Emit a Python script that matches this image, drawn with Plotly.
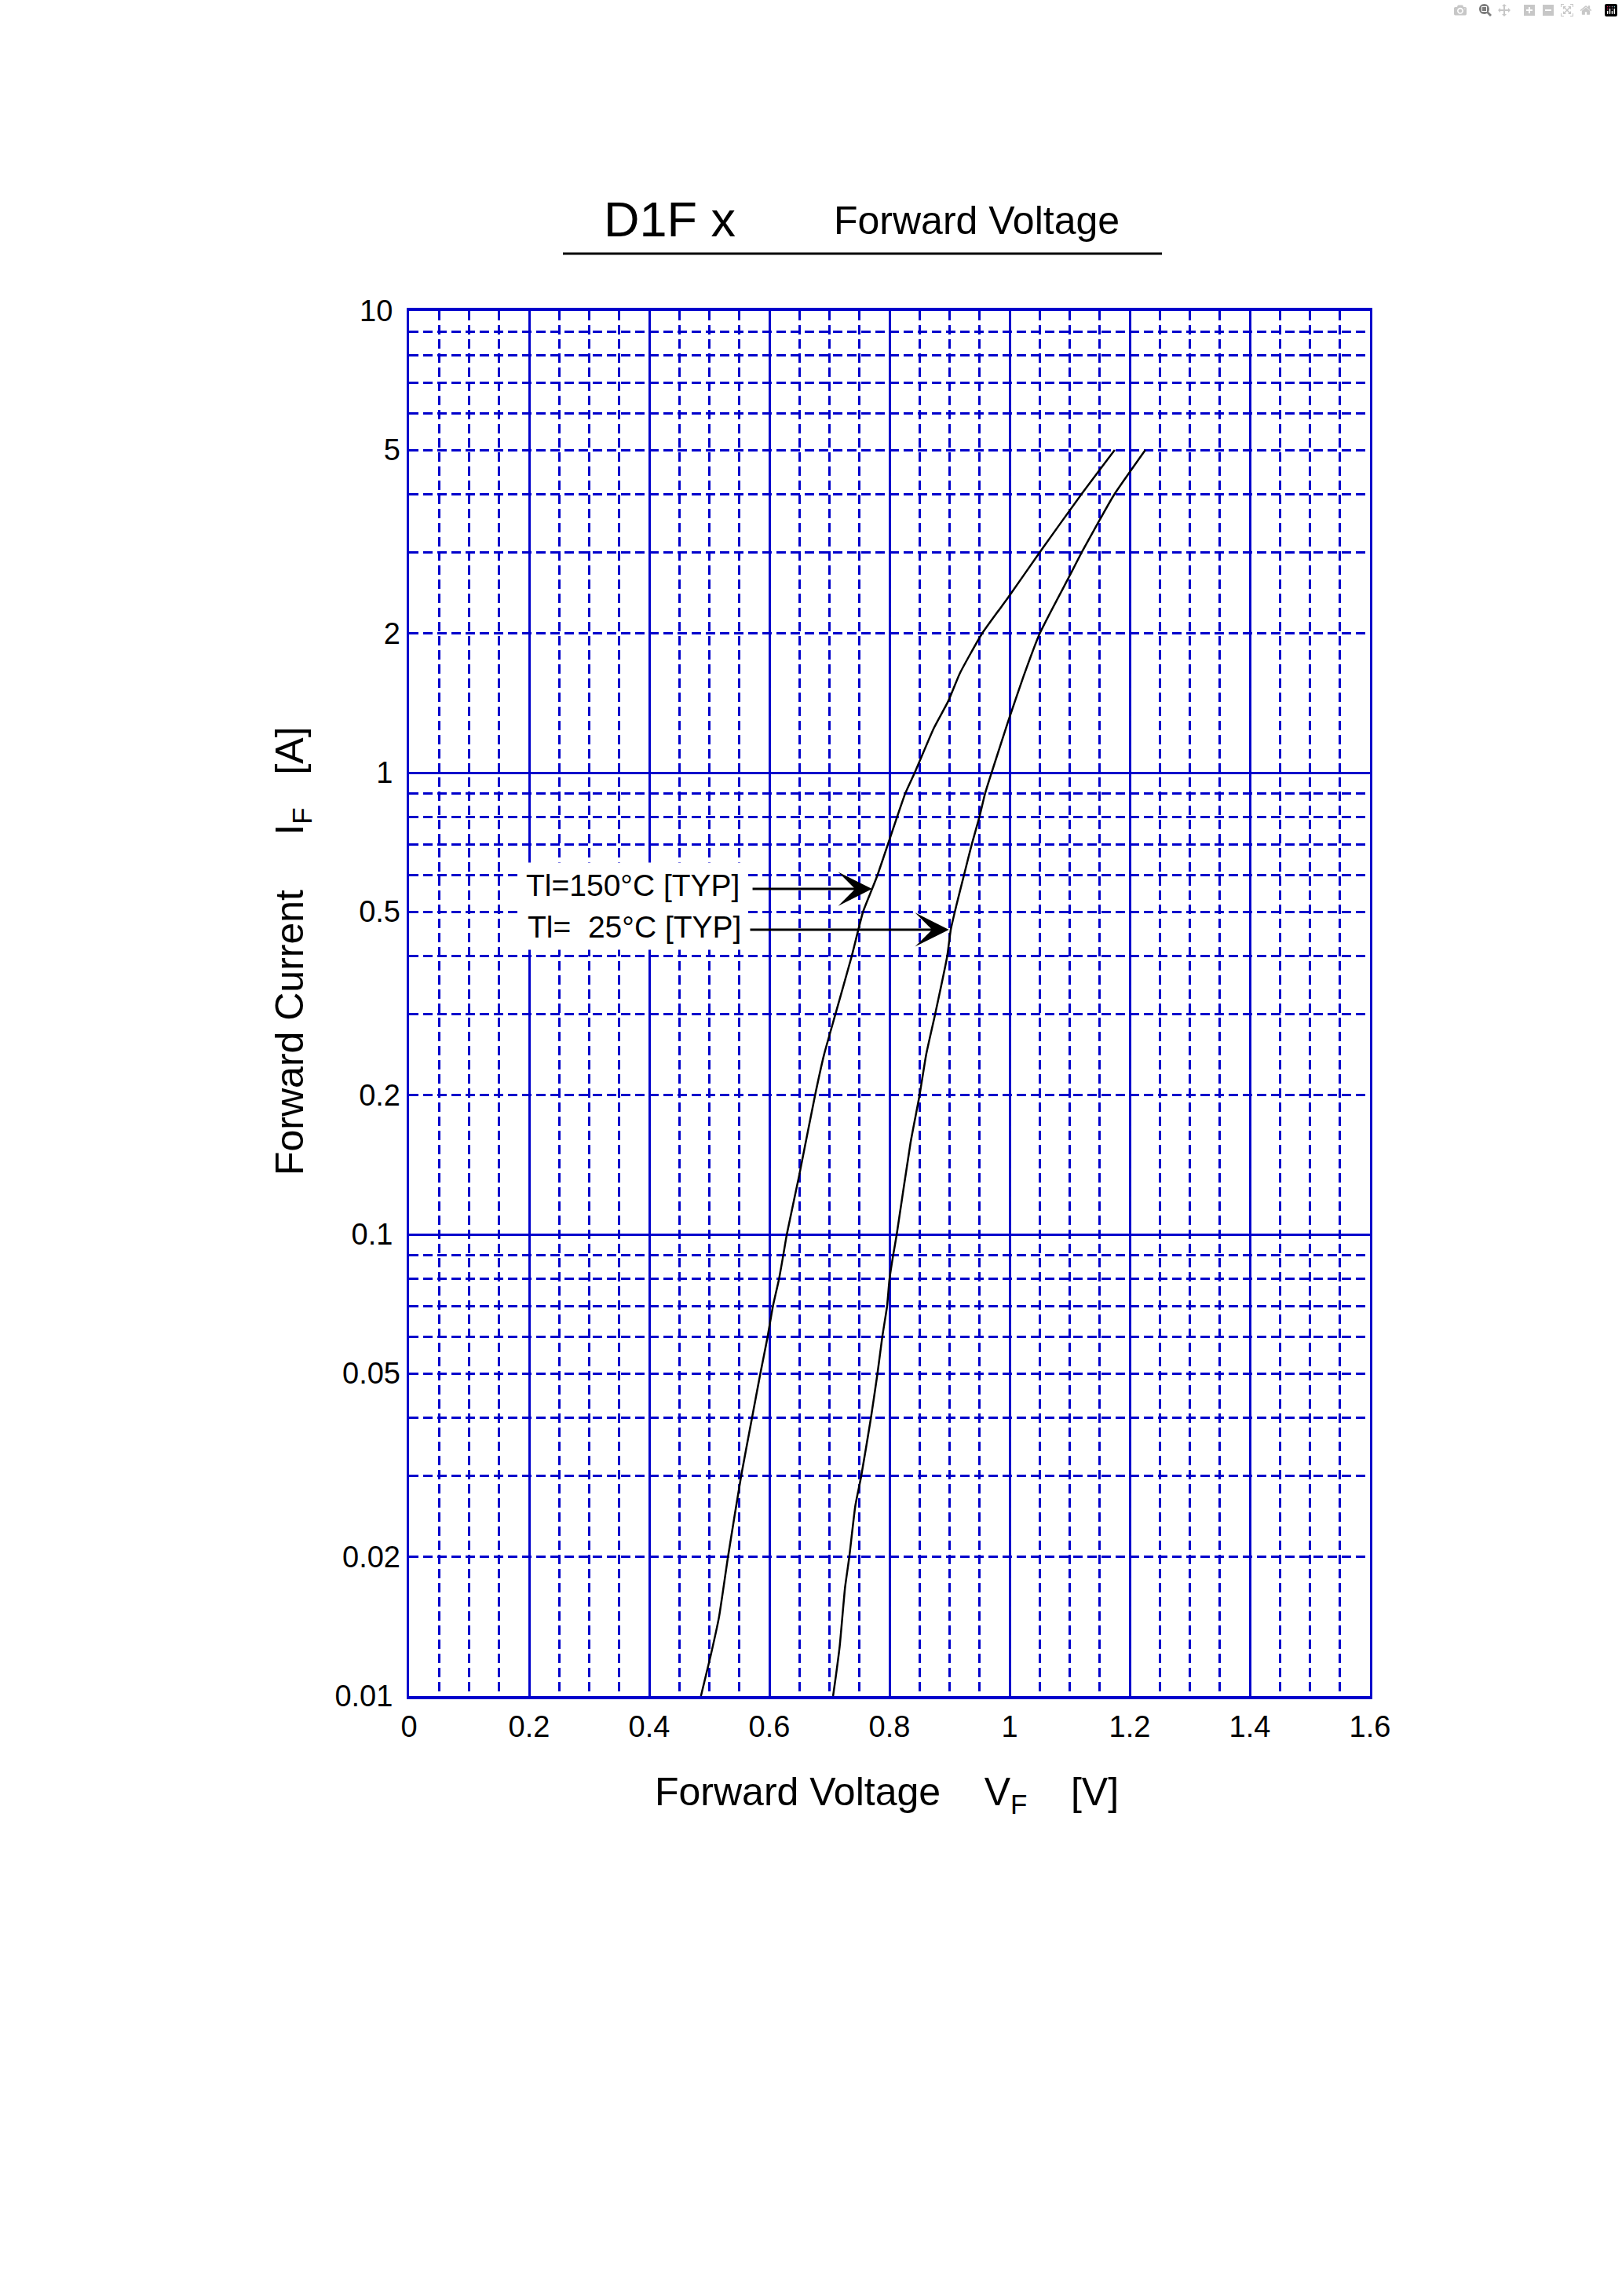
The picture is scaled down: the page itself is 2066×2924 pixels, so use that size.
import numpy as np
import plotly.graph_objects as go

# forward voltage [V] vs forward current [A]
vf_150 = [0.486, 0.502, 0.516, 0.531, 0.553, 0.571, 0.585, 0.597, 0.606, 0.616,
          0.623, 0.629, 0.649, 0.676, 0.691, 0.710, 0.737, 0.756, 0.771, 0.780,
          0.799, 0.826, 0.842, 0.874, 0.898, 0.917, 0.954, 1.000, 1.050, 1.119, 1.175]
if_150 = [0.01, 0.0122, 0.0148, 0.02, 0.03, 0.04, 0.05, 0.06, 0.07, 0.08,
          0.09, 0.1, 0.133, 0.2, 0.245, 0.3, 0.4, 0.5, 0.56, 0.6,
          0.71, 0.9, 1.0, 1.25, 1.43, 1.64, 2.0, 2.42, 3.0, 4.0, 5.0]

vf_25 = [0.706, 0.7105, 0.717, 0.726, 0.733, 0.743, 0.753, 0.769, 0.780, 0.788,
         0.796, 0.800, 0.806, 0.812, 0.835, 0.850, 0.861, 0.876, 0.896, 0.902,
         0.912, 0.924, 0.937, 0.9495, 0.959, 0.970, 0.997, 1.023, 1.050, 1.101,
         1.120, 1.149, 1.174, 1.226]
if_25 = [0.01, 0.011, 0.0128, 0.0172, 0.02, 0.0258, 0.03, 0.04, 0.05, 0.06,
         0.07, 0.08, 0.09, 0.1, 0.158, 0.2, 0.245, 0.3, 0.4, 0.457,
         0.52, 0.6, 0.7, 0.8, 0.9, 1.0, 1.285, 1.615, 2.0, 2.686,
         3.0, 3.51, 4.0, 5.0]

x_ticks = [0, 0.2, 0.4, 0.6, 0.8, 1.0, 1.2, 1.4, 1.6]
x_ticktext = ["0", "0.2", "0.4", "0.6", "0.8", "1", "1.2", "1.4", "1.6"]
x_minor = [0.05, 0.1, 0.15, 0.25, 0.3, 0.35, 0.45, 0.5, 0.55, 0.65, 0.7, 0.75,
           0.85, 0.9, 0.95, 1.05, 1.1, 1.15, 1.25, 1.3, 1.35, 1.45, 1.5, 1.55]

y_decades = [0.01, 0.1, 1, 10]
y_decade_text = ["0.01", "0.1", "1", "10"]
y_mid = [0.02, 0.05, 0.2, 0.5, 2, 5]
y_mid_text = ["0.02", "0.05", "0.2", "0.5", "2", "5"]
y_minor = [0.02, 0.03, 0.04, 0.05, 0.06, 0.07, 0.08, 0.09,
           0.2, 0.3, 0.4, 0.5, 0.6, 0.7, 0.8, 0.9,
           2, 3, 4, 5, 6, 7, 8, 9]

BLUE = "#0000cc"
FONT = "Liberation Sans, Arial, Helvetica, sans-serif"
NB = "\u00a0"

# page geometry (pixels)
W, H = 2066, 2924
L, R, T, B = 521, 1745, 396, 2160


def px(x):
    return (x - L) / (R - L)


def py(y):
    return (B - y) / (B - T)


fig = go.Figure()
fig.add_trace(go.Scatter(x=vf_150, y=if_150, mode="lines",
                         line=dict(color="black", width=2.5, shape="spline", smoothing=0.5),
                         yaxis="y"))
fig.add_trace(go.Scatter(x=vf_25, y=if_25, mode="lines",
                         line=dict(color="black", width=2.5, shape="spline", smoothing=0.5),
                         yaxis="y2"))

grid_minor = dict(showgrid=True, gridcolor=BLUE, gridwidth=2.5, griddash="12px,6px", ticks="")
tick_font = dict(family=FONT, size=38, color="black")

fig.update_layout(
    width=W, height=H,
    margin=dict(l=L, r=W - R, t=T, b=H - B, pad=0),
    paper_bgcolor="white", plot_bgcolor="white",
    showlegend=False,
    font=dict(family=FONT, color="black"),
    xaxis=dict(range=[0, 1.6], tickmode="array", tickvals=x_ticks, ticktext=x_ticktext,
               showgrid=True, gridcolor=BLUE, gridwidth=2.5,
               minor=dict(tickmode="array", tickvals=x_minor, **grid_minor),
               showline=True, mirror=True, linecolor=BLUE, linewidth=4,
               ticks="", zeroline=False, tickfont=tick_font, ticklabelstandoff=2),
    yaxis=dict(type="log", range=[-2, 1], tickmode="array", tickvals=y_decades,
               ticktext=y_decade_text,
               showgrid=True, gridcolor=BLUE, gridwidth=2.5,
               minor=dict(tickmode="array", tickvals=y_minor, **grid_minor),
               showline=True, mirror=True, linecolor=BLUE, linewidth=3,
               ticks="", zeroline=False, tickfont=tick_font, ticklabelstandoff=10),
    yaxis2=dict(type="log", range=[-2, 1], overlaying="y", anchor="x", side="left",
                tickmode="array", tickvals=y_mid, ticktext=y_mid_text,
                showgrid=False, showline=False, zeroline=False, ticks="",
                tickfont=tick_font, ticklabelstandoff=10),
)

centred = dict(xref="paper", yref="paper", xanchor="center", yanchor="middle", showarrow=False)

# title block
fig.add_annotation(text="D1F x", x=px(853), y=py(279), font=dict(size=63), **centred)
fig.add_annotation(text="Forward Voltage", x=px(1244), y=py(281), font=dict(size=50), **centred)
fig.add_shape(type="line", xref="paper", yref="paper", x0=px(717), x1=px(1480),
              y0=py(323), y1=py(323), line=dict(color="black", width=3))

# axis titles
fig.add_annotation(text="Forward" + NB + "Voltage" + NB * 4 + "V<sub>F</sub>" + NB * 4 + "[V]",
                   x=px(1129), y=py(2285), font=dict(size=50), **centred)
fig.add_annotation(text="Forward" + NB + "Current" + NB * 5 + "I<sub>F</sub>" + NB * 3 + "[A]",
                   x=px(372), y=py(1211), textangle=-90, font=dict(size=50), **centred)

# curve labels (on a white patch that blanks the grid) with arrows
labels = [
    ("Tl=150°C [TYP]", 0.561, 0.569, 0.570, 0.771, 0.56),
    ("Tl=" + NB * 2 + "25°C [TYP]", 0.564, 0.464, 0.566, 0.899, 0.457),
]
for text, tx, ty, tail, tip, iy in labels:
    fig.add_annotation(text=text, x=tx, y=np.log10(ty), xref="x", yref="y",
                       xanchor="right", yanchor="middle", showarrow=False,
                       bgcolor="white", borderpad=7, font=dict(size=39))
    fig.add_annotation(text="", x=tip, y=np.log10(iy), ax=tail, ay=np.log10(iy),
                       xref="x", yref="y", axref="x", ayref="y",
                       showarrow=True, arrowhead=3, arrowsize=2.4, arrowwidth=3,
                       arrowcolor="black")

fig.write_html("out.html", post_script="document.body.style.margin='0';")
